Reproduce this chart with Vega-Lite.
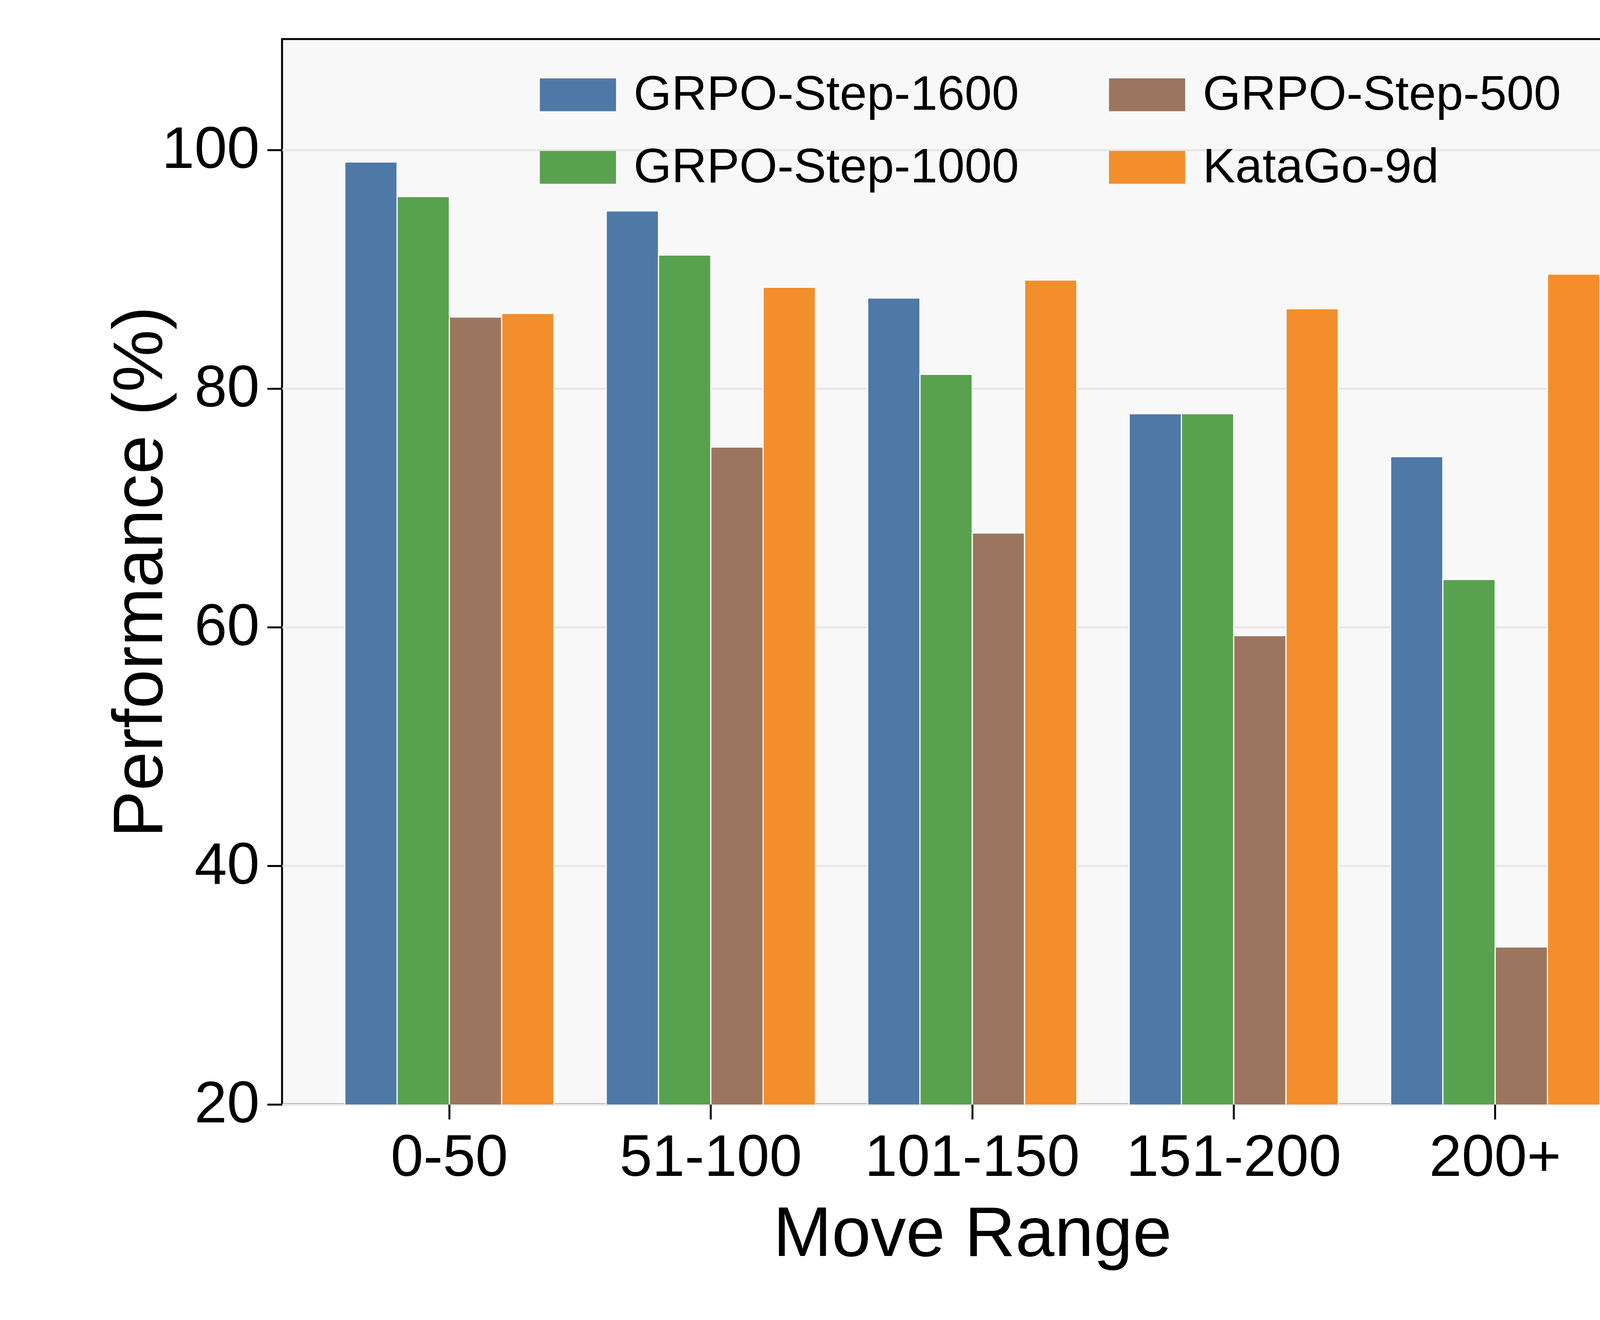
{
"$schema":"https://vega.github.io/schema/vega-lite/v6.json",
"width":3534,"height":2728,
"autosize":{"type":"none"},
"padding":{"left":722,"top":100,"right":45,"bottom":552},
"background":"white",
"config":{"font":"Liberation Sans","view":{"fill":"#f8f8f8","stroke":"black","strokeWidth":5}},
"data":{"values":[
{"r":"0-50","m":"GRPO-Step-1600","v":99.0},{"r":"0-50","m":"GRPO-Step-1000","v":96.1},{"r":"0-50","m":"GRPO-Step-500","v":86.0},{"r":"0-50","m":"KataGo-9d","v":86.3},
{"r":"51-100","m":"GRPO-Step-1600","v":94.9},{"r":"51-100","m":"GRPO-Step-1000","v":91.2},{"r":"51-100","m":"GRPO-Step-500","v":75.1},{"r":"51-100","m":"KataGo-9d","v":88.5},
{"r":"101-150","m":"GRPO-Step-1600","v":87.6},{"r":"101-150","m":"GRPO-Step-1000","v":81.2},{"r":"101-150","m":"GRPO-Step-500","v":67.9},{"r":"101-150","m":"KataGo-9d","v":89.1},
{"r":"151-200","m":"GRPO-Step-1600","v":77.9},{"r":"151-200","m":"GRPO-Step-1000","v":77.9},{"r":"151-200","m":"GRPO-Step-500","v":59.3},{"r":"151-200","m":"KataGo-9d","v":86.7},
{"r":"200+","m":"GRPO-Step-1600","v":74.3},{"r":"200+","m":"GRPO-Step-1000","v":64.0},{"r":"200+","m":"GRPO-Step-500","v":33.2},{"r":"200+","m":"KataGo-9d","v":89.6}
]},
"mark":{"type":"bar","stroke":"white","strokeWidth":3,"clip":true},
"encoding":{
"x":{"field":"r","type":"nominal","sort":["0-50","51-100","101-150","151-200","200+"],
 "scale":{"paddingInner":0.2,"paddingOuter":0.24},
 "axis":{"title":"Move Range","labelAngle":0,"labelFontSize":150,"titleFontSize":180,"titleFontWeight":"normal","labelPadding":25,"titlePadding":45,"tickSize":38,"tickWidth":5,"tickColor":"black","domain":false,"labelColor":"black","titleColor":"black","labelLimit":2000}},
"xOffset":{"field":"m","type":"nominal","sort":["GRPO-Step-1600","GRPO-Step-1000","GRPO-Step-500","KataGo-9d"]},
"y":{"field":"v","type":"quantitative","scale":{"domain":[20,109.3],"nice":false,"zero":false},
 "axis":{"title":"Performance (%)","values":[20,40,60,80,100],"labelFontSize":150,"titleFontSize":180,"titleFontWeight":"normal","tickSize":38,"tickWidth":5,"tickColor":"black","domain":false,"labelPadding":20,"titlePadding":70,"gridColor":"#e6e6e6","gridWidth":5,"labelColor":"black","titleColor":"black","labelLimit":2000}},
"color":{"field":"m","type":"nominal",
 "scale":{"domain":["GRPO-Step-1600","GRPO-Step-500","GRPO-Step-1000","KataGo-9d"],"range":["#4e79a7","#9c755f","#59a14f","#f28e2b"]},
 "legend":{"title":null,"orient":"none","legendX":660,"legendY":45,"columns":2,"direction":"horizontal","symbolType":"M-1,-0.43H1V0.43H-1Z","symbolSize":38000,"symbolStrokeWidth":0,"labelFontSize":125,"labelOffset":45,"columnPadding":230,"rowPadding":25,"labelLimit":2000,"labelColor":"black"}}
}
}
